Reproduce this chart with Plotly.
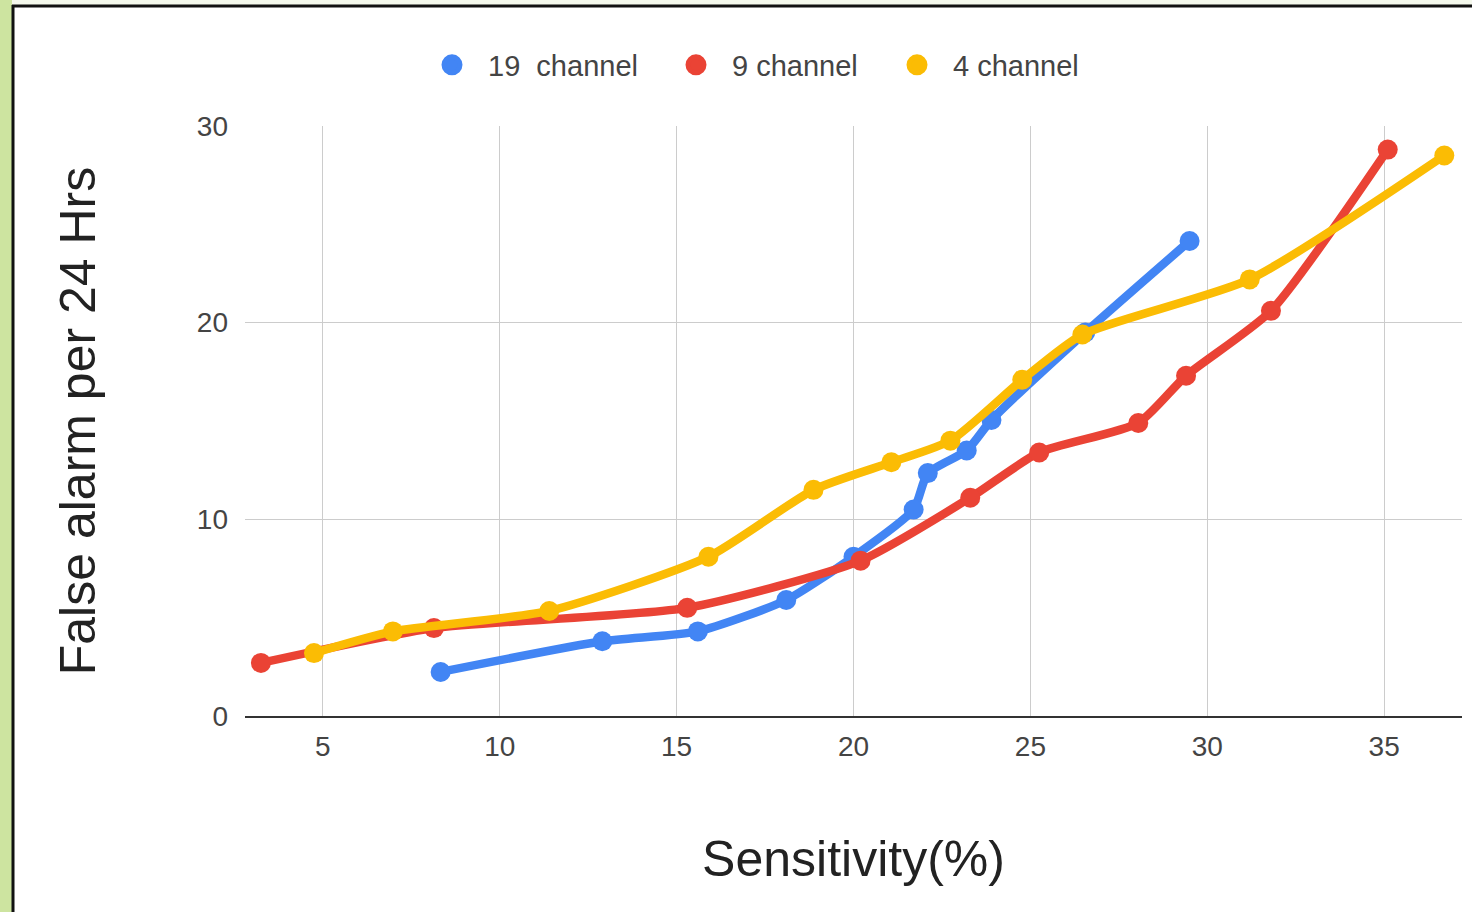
import plotly.graph_objects as go

# ---- data ----
sens_19 = [8.33, 12.9, 15.6, 18.1, 20.0, 21.7, 22.1, 23.2, 23.9, 26.55, 29.5]
fa_19   = [2.24, 3.8, 4.3, 5.9, 8.1, 10.5, 12.35, 13.5, 15.05, 19.5, 24.15]

sens_9 = [3.25, 8.14, 15.3, 20.2, 23.3, 25.25, 28.05, 29.4, 31.8, 35.1]
fa_9   = [2.7, 4.47, 5.5, 7.9, 11.1, 13.4, 14.9, 17.3, 20.6, 28.8]

sens_4 = [4.75, 6.98, 11.4, 15.9, 18.87, 21.07, 22.74, 24.77, 26.47, 31.2, 36.7]
fa_4   = [3.2, 4.3, 5.34, 8.1, 11.5, 12.9, 14.0, 17.1, 19.4, 22.2, 28.5]

series_names = ["19\u00a0 channel", "9 channel", "4 channel"]
x_ticks = [5, 10, 15, 20, 25, 30, 35]
y_ticks = [0, 10, 20, 30]

colors = ["#4285F4", "#EA4335", "#FBBC04"]

W, H = 1472, 912
ML, MR, MT, MB = 245, 10, 126, 196
PW, PH = W - ML - MR, H - MT - MB


def px_x(p):
    return (p - ML) / PW


def px_y(p):
    return 1 - (p - MT) / PH


fig = go.Figure()
for xs, ys, name, c in [(sens_19, fa_19, series_names[0], colors[0]),
                        (sens_9, fa_9, series_names[1], colors[1]),
                        (sens_4, fa_4, series_names[2], colors[2])]:
    fig.add_trace(go.Scatter(
        x=xs, y=ys, mode="lines+markers", name=name, showlegend=False,
        line=dict(color=c, width=8.5, shape="spline", smoothing=0.6),
        marker=dict(color=c, size=20), cliponaxis=False,
    ))
legend_ids = ["legend", "legend2", "legend3"]
for name, c, lid in zip(series_names, colors, legend_ids):
    fig.add_trace(go.Scatter(
        x=[None], y=[None], mode="markers", name=name, legend=lid,
        marker=dict(color=c, size=16, line=dict(color=c, width=5)), showlegend=True,
    ))

font = "Liberation Sans, Arial, sans-serif"


def legend_at(px):
    return dict(orientation="h", x=px_x(px), xanchor="left",
                y=px_y(65), yanchor="middle",
                font=dict(size=29, color="#444"), itemwidth=62,
                bgcolor="rgba(0,0,0,0)")


fig.update_layout(
    width=W, height=H,
    margin=dict(l=ML, r=MR, t=MT, b=MB, autoexpand=False),
    paper_bgcolor="white", plot_bgcolor="white",
    font=dict(family=font, color="#444"),
    showlegend=True,
    legend=legend_at(416),
    legend2=legend_at(660),
    legend3=legend_at(881),
    xaxis=dict(range=[2.8, 37.2], tickvals=x_ticks, ticktext=[str(t) for t in x_ticks],
               showgrid=True, gridcolor="#cccccc", gridwidth=1.3,
               zeroline=False, showline=True, linecolor="#333333", linewidth=2,
               ticks="", tickfont=dict(size=28, color="#444"), ticklabelstandoff=4,
               title=dict(text="Sensitivity(%)", font=dict(size=50, color="#222"), standoff=80)),
    yaxis=dict(range=[0, 30], tickvals=y_ticks, ticktext=[str(t) for t in y_ticks],
               showgrid=True, gridcolor="#cccccc", gridwidth=1.3,
               zeroline=False, showline=False, ticks="",
               tickfont=dict(size=28, color="#444"), ticklabelstandoff=16,
               title=dict(text="False alarm per 24 Hrs", font=dict(size=50, color="#222"), standoff=85)),
    shapes=[
        # top light strip
        dict(type="rect", xref="paper", yref="paper", x0=px_x(0), x1=px_x(W),
             y0=px_y(0), y1=px_y(5), fillcolor="#f4f8ec", line=dict(width=0), layer="below"),
        # left green strip
        dict(type="rect", xref="paper", yref="paper", x0=px_x(0), x1=px_x(12),
             y0=px_y(0), y1=px_y(H), fillcolor="#cde4a0", line=dict(width=0), layer="below"),
        # black frame lines
        dict(type="line", xref="paper", yref="paper", x0=px_x(12), x1=px_x(W),
             y0=px_y(6), y1=px_y(6), line=dict(color="#111", width=3)),
        dict(type="line", xref="paper", yref="paper", x0=px_x(13), x1=px_x(13),
             y0=px_y(5), y1=px_y(H), line=dict(color="#111", width=3)),
    ],
)

fig.write_html("out.html", config={"displayModeBar": False},
               post_script="document.body.style.margin='0';")
